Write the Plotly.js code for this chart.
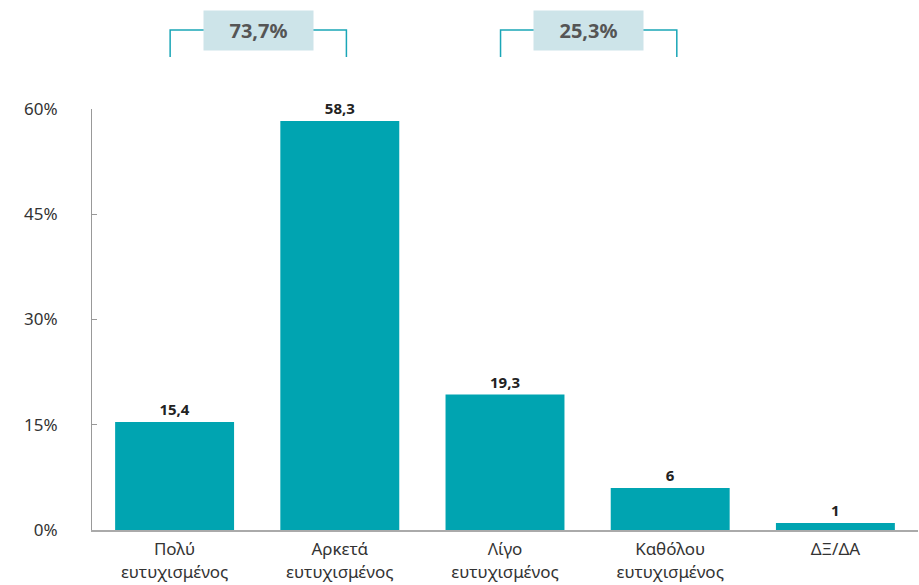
<!DOCTYPE html>
<html><head><meta charset="utf-8">
<script src="https://cdn.plot.ly/plotly-3.0.1.min.js"></script>
<style>body{margin:0;background:#fff}#c{width:919px;height:585px}</style>
</head><body><div id="c"></div>
<script>
const categories = ["Πολύ<br>ευτυχισμένος","Αρκετά<br>ευτυχισμένος","Λίγο<br>ευτυχισμένος","Καθόλου<br>ευτυχισμένος","ΔΞ/ΔΑ"];
const values = [15.4, 58.3, 19.3, 6, 1];
const groupLabels = ["73,7%", "25,3%"];
const groupSpans = [[0, 1], [2, 3]];
const yTicks = [0, 15, 30, 45, 60];
const yTickText = ["0%", "15%", "30%", "45%", "60%"];

const font = "'Noto Sans', 'Open Sans', sans-serif";
const teal = "#00a4b1";
const text = values.map(v => String(v).replace('.', ','));

const shapes = [], annotations = [];
groupSpans.forEach((s, i) => {
  const x0 = s[0] - 0.027, x1 = s[1] + 0.04;
  shapes.push({type:'path', xref:'x', yref:'paper',
    path:`M ${x0} 1.1235 L ${x0} 1.1876 L ${x1} 1.1876 L ${x1} 1.1235`,
    line:{color:'#1aa6b7', width:1.5}});
  annotations.push({xref:'x', yref:'paper', x:(s[0]+s[1])/2 + 0.005, y:1.1876, text:'<b>'+groupLabels[i]+'</b>',
    showarrow:false, font:{family:font, size:20, color:'#555'}, bgcolor:'#cde4e9',
    width:107, height:37, xanchor:'center', yanchor:'middle'});
});

Plotly.newPlot('c', [{
  type:'bar', x:categories, y:values, text:text, textposition:'outside',
  texttemplate:'<b>%{text}</b>', cliponaxis:false,
  textfont:{family:font, size:15, color:'#222'},
  marker:{color:teal}, hoverinfo:'none'
}], {
  width:919, height:585,
  margin:{l:92, r:1, t:109, b:55},
  paper_bgcolor:'#fff', plot_bgcolor:'#fff',
  bargap:0.28, showlegend:false,
  xaxis:{showline:true, linecolor:'#aaa', linewidth:2, ticks:'', showgrid:false,
    ticklabelstandoff:3, tickfont:{family:font, size:17, color:'#333'}},
  yaxis:{range:[0,60], tickvals:yTicks, ticktext:yTickText, showgrid:false, zeroline:false,
    showline:true, linecolor:'#999', linewidth:1, ticks:'inside', ticklen:5, tickcolor:'#999',
    ticklabelstandoff:30, tickfont:{family:font, size:17, color:'#333'}},
  shapes:shapes, annotations:annotations
}, {staticPlot:true});
</script></body></html>
